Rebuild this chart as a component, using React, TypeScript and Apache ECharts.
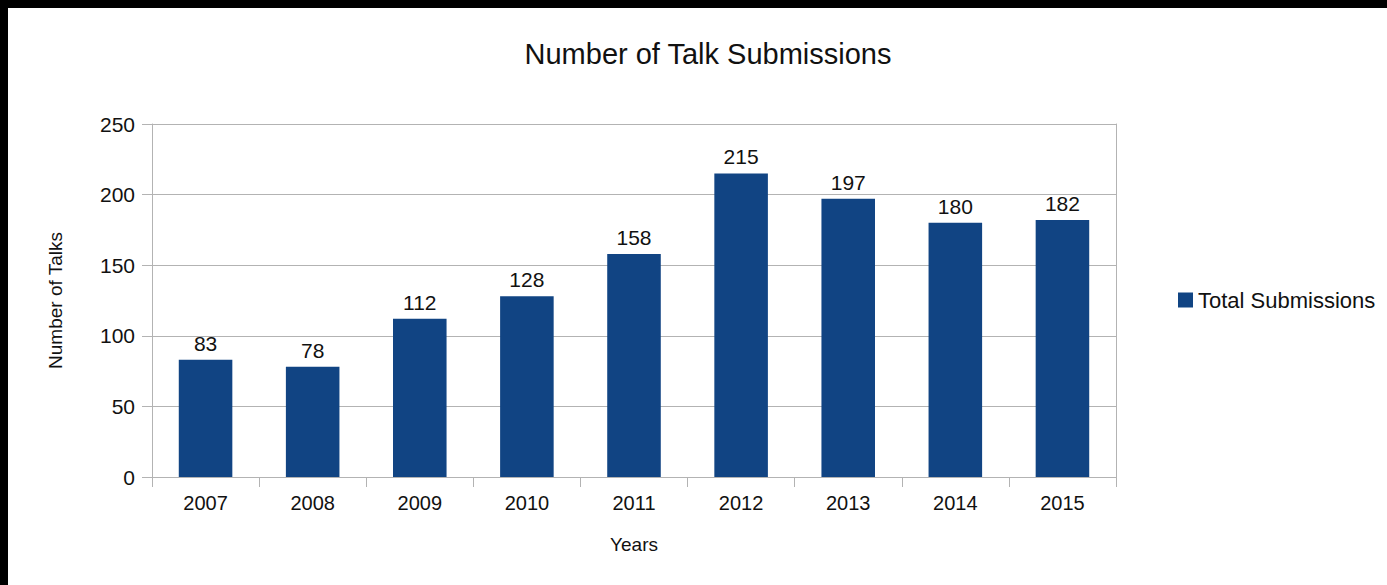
import React, { useEffect, useRef } from "react";
import * as echarts from "echarts";

const years: string[] = ["2007", "2008", "2009", "2010", "2011", "2012", "2013", "2014", "2015"];
const submissions: number[] = [83, 78, 112, 128, 158, 215, 197, 180, 182];
const seriesName = "Total Submissions";
const titleText = "Number of Talk Submissions";
const yAxisName = "Number of Talks";
const xAxisName = "Years";

const FONT = '"Liberation Sans", Arial, sans-serif';
const TEXT = "#111111";
const GRID = "#b3b3b3";
const BAR = "#114483";

export default function App() {
  const ref = useRef<HTMLDivElement>(null);
  useEffect(() => {
    if (!ref.current) return;
    const chart = echarts.init(ref.current, undefined, { renderer: "svg" });
    chart.setOption({
      animation: false,
      backgroundColor: "#ffffff",
      textStyle: { fontFamily: FONT, color: TEXT },
      title: {
        text: titleText,
        left: 695,
        top: 41,
        textAlign: "center",
        textVerticalAlign: "middle",
        textStyle: { fontFamily: FONT, fontSize: 29, fontWeight: "normal", color: TEXT },
      },
      legend: {
        data: [seriesName],
        orient: "vertical",
        left: 1170,
        top: 281,
        padding: 0,
        itemWidth: 15,
        itemHeight: 15,
        icon: "rect",
        textStyle: { fontFamily: FONT, fontSize: 22, color: TEXT },
      },
      grid: { left: 144, top: 116, right: 271, bottom: 108, containLabel: false },
      xAxis: {
        type: "category",
        data: years,
        name: xAxisName,
        nameLocation: "middle",
        nameGap: 58,
        nameTextStyle: { fontFamily: FONT, fontSize: 19, color: TEXT },
        axisLine: { show: true, lineStyle: { color: GRID, width: 1 } },
        axisTick: { show: true, length: 10, alignWithLabel: false, interval: 0, lineStyle: { color: GRID } },
        axisLabel: { fontFamily: FONT, fontSize: 20, color: TEXT, margin: 16, interval: 0 },
        splitLine: { show: false },
      },
      yAxis: [
        {
          type: "value",
          min: 0,
          max: 250,
          interval: 50,
          name: yAxisName,
          nameLocation: "middle",
          nameGap: 87,
          nameTextStyle: { fontFamily: FONT, fontSize: 19, color: TEXT },
          axisLine: { show: true, lineStyle: { color: GRID, width: 1 } },
          axisTick: { show: true, length: 10, lineStyle: { color: GRID } },
          axisLabel: { fontFamily: FONT, fontSize: 21, color: TEXT, margin: 17 },
          splitLine: { show: true, lineStyle: { color: GRID, width: 1 } },
        },
        {
          type: "value",
          position: "right",
          min: 0,
          max: 250,
          interval: 50,
          axisLine: { show: true, lineStyle: { color: GRID, width: 1 } },
          axisTick: { show: false },
          axisLabel: { show: false },
          splitLine: { show: false },
        },
      ],
      series: [
        {
          name: seriesName,
          type: "bar",
          data: submissions,
          yAxisIndex: 0,
          barCategoryGap: "50%",
          itemStyle: { color: BAR },
          label: {
            show: true,
            position: "top",
            distance: 6,
            fontFamily: FONT,
            fontSize: 21,
            color: TEXT,
          },
        },
      ],
    });
    return () => chart.dispose();
  }, []);
  return (
    <div style={{ position: "fixed", left: 0, top: 0, width: 1387, height: 585, background: "#000" }}>
      <div
        ref={ref}
        style={{ position: "absolute", left: 8, top: 8, width: 1379, height: 577, background: "#fff" }}
      />
    </div>
  );
}
